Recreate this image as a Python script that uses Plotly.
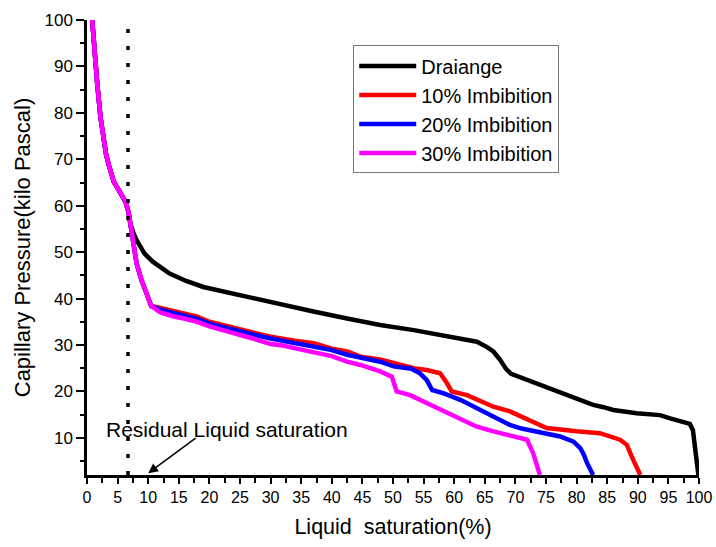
import plotly.graph_objects as go

# shared initial segment (all curves coincide)
common_x = [0.85, 1.2, 1.67, 2.2, 2.5, 2.75, 3.1, 3.6, 4.0, 4.4, 5.0, 5.5, 6.3, 6.8, 7.1]
common_y = [100, 93, 86.3, 79.1, 76.3, 74.1, 71.2, 68.6, 66.6, 65.1, 63.8, 62.7, 60.8, 58.5, 56.0]

drain_x = [7.6, 8.1, 9.4, 10.8, 13.5, 16.2, 19.0, 21.7, 27.1, 32.0, 37.0, 42.5, 47.9,
           53.4, 58.8, 63.7, 65.3, 66.4, 67.5, 68.5, 69.3, 70.5, 73.5, 77.5, 80.0,
           82.7, 84.4, 86.0, 89.8, 93.6, 95.3, 97.0, 98.5, 99.0, 99.6, 99.9]
drain_y = [54.1, 52.6, 49.7, 47.9, 45.4, 43.8, 42.5, 41.7, 40.0, 38.6, 37.2, 35.7, 34.3,
           33.2, 31.9, 30.7, 29.6, 28.6, 26.8, 24.8, 23.8, 23.2, 21.6, 19.5, 18.4,
           17.1, 16.6, 16.0, 15.3, 14.9, 14.2, 13.6, 13.0, 11.7, 5.0, 2.0]

imb_drop_x = [7.6, 8.1, 8.9, 9.7, 10.5]
imb_drop_y = [51.1, 47.6, 44.0, 41.1, 38.4]

imb10_x = [12.0, 14.0, 16.2, 18.0, 20.0, 21.7, 24.0, 27.1, 30.0, 32.0, 34.0, 37.0, 40.0,
           42.5, 44.7, 47.9, 50.1, 53.4, 55.5, 57.7, 58.8, 59.6, 62.1, 63.7, 66.4, 69.1,
           71.9, 75.1, 80.0, 83.8, 87.1, 88.2, 89.0, 90.4]
imb10_y = [38.0, 37.3, 36.7, 36.1, 35.0, 34.5, 33.8, 32.7, 31.8, 31.3, 30.9, 30.4, 29.2,
           28.6, 27.5, 26.9, 26.1, 25.0, 24.6, 23.9, 21.8, 20.0, 19.2, 18.2, 16.7, 15.7,
           13.9, 12.1, 11.4, 11.0, 9.6, 8.5, 6.0, 2.0]

imb20_x = [12.0, 14.0, 16.2, 18.0, 20.0, 21.7, 25.0, 27.1, 30.0, 32.0, 37.0, 40.0, 42.5,
           45.0, 47.9, 50.1, 53.0, 54.4, 55.5, 56.4, 58.3, 61.0, 63.2, 66.4, 69.1, 71.0,
           74.6, 77.3, 79.5, 80.6, 81.2, 81.7, 82.7]
imb20_y = [37.6, 37.0, 36.3, 35.6, 34.6, 34.0, 33.0, 32.3, 31.4, 30.9, 29.8, 28.9, 27.9,
           27.2, 26.4, 25.4, 24.9, 23.9, 22.5, 20.3, 19.6, 18.2, 16.7, 14.6, 12.8, 12.0,
           11.0, 10.3, 9.2, 7.8, 6.3, 4.6, 2.0]

imb30_x = [12.0, 14.0, 16.2, 18.0, 20.0, 21.7, 25.0, 27.1, 30.0, 32.0, 35.0, 37.0, 40.0,
           42.5, 44.7, 47.9, 49.8, 50.6, 52.8, 55.5, 58.3, 61.0, 63.7, 66.4, 69.1, 71.9,
           72.9, 74.0]
imb30_y = [37.0, 36.2, 35.6, 35.0, 34.0, 33.4, 32.2, 31.4, 30.2, 29.9, 29.0, 28.4, 27.6,
           26.4, 25.7, 24.3, 23.2, 20.0, 19.2, 17.5, 15.7, 13.9, 12.4, 11.4, 10.6, 9.6,
           6.7, 2.0]

residual_x = 6.7
names = ["Draiange", "10% Imbibition", "20% Imbibition", "30% Imbibition"]
colors = ["#000000", "#ff0000", "#0000ff", "#ff00ff"]

series = [
    (common_x + drain_x, common_y + drain_y),
    (common_x + imb_drop_x + imb10_x, common_y + imb_drop_y + imb10_y),
    (common_x + imb_drop_x + imb20_x, common_y + imb_drop_y + imb20_y),
    (common_x + imb_drop_x + imb30_x, common_y + imb_drop_y + imb30_y),
]

fig = go.Figure()
for (xs, ys), n, c in zip(series, names, colors):
    fig.add_trace(go.Scatter(x=xs, y=ys, mode="lines", name=n,
                             line=dict(color=c, width=4.5)))

# residual saturation dotted line
fig.add_trace(go.Scatter(x=[residual_x, residual_x], y=[2, 98.3], mode="lines",
                         showlegend=False,
                         line=dict(color="black", width=3.5, dash="4px,13px")))

fig.add_annotation(x=22.8, y=11.7, xref="x", yref="y", text="Residual Liquid saturation",
                   showarrow=False, font=dict(family="Liberation Sans, Arial", size=21, color="black"))
fig.add_annotation(x=10.0, y=2.4, ax=18.0, ay=10.2, xref="x", yref="y", axref="x", ayref="y",
                   text="", showarrow=True, arrowhead=2, arrowsize=1.3, arrowwidth=1.5,
                   arrowcolor="black")

fig.update_layout(
    width=716, height=547,
    margin=dict(l=86.5, r=17, t=19.5, b=72),
    paper_bgcolor="white", plot_bgcolor="white",
    font=dict(family="Liberation Sans, Arial", color="black"),
    showlegend=True,
    legend=dict(x=0.435, y=0.944, xanchor="left", yanchor="top",
                bgcolor="white", bordercolor="#777777", borderwidth=1,
                font=dict(size=20, color="black"), itemwidth=57,
                tracegroupgap=0),
    xaxis=dict(range=[0, 100], tickvals=list(range(0, 101, 5)), automargin=False,
               showgrid=False, zeroline=False, showline=True, linecolor="black", linewidth=2.5,
               ticks="outside", ticklen=6, tickwidth=2, tickcolor="black",
               minor=dict(dtick=2.5, ticks="outside", ticklen=5, tickwidth=2, tickcolor="black"),
               tickfont=dict(size=16),
               title=dict(text="Liquid  saturation(%)", standoff=14,
                          font=dict(size=21.5))),
    yaxis=dict(range=[2.0, 100], tickvals=list(range(10, 101, 10)), automargin=False,
               showgrid=False, zeroline=False, showline=True, linecolor="black", linewidth=2.5,
               ticks="outside", ticklen=8, tickwidth=2, tickcolor="black",
               minor=dict(tickvals=[5, 15, 25, 35, 45, 55, 65, 75, 85, 95], ticks="outside",
                          ticklen=4, tickwidth=2, tickcolor="black"),
               tickfont=dict(size=17),
               title=dict(text="Capillary Pressure(kilo Pascal)", standoff=8,
                          font=dict(size=22))),
)

fig.write_html("out.html")
